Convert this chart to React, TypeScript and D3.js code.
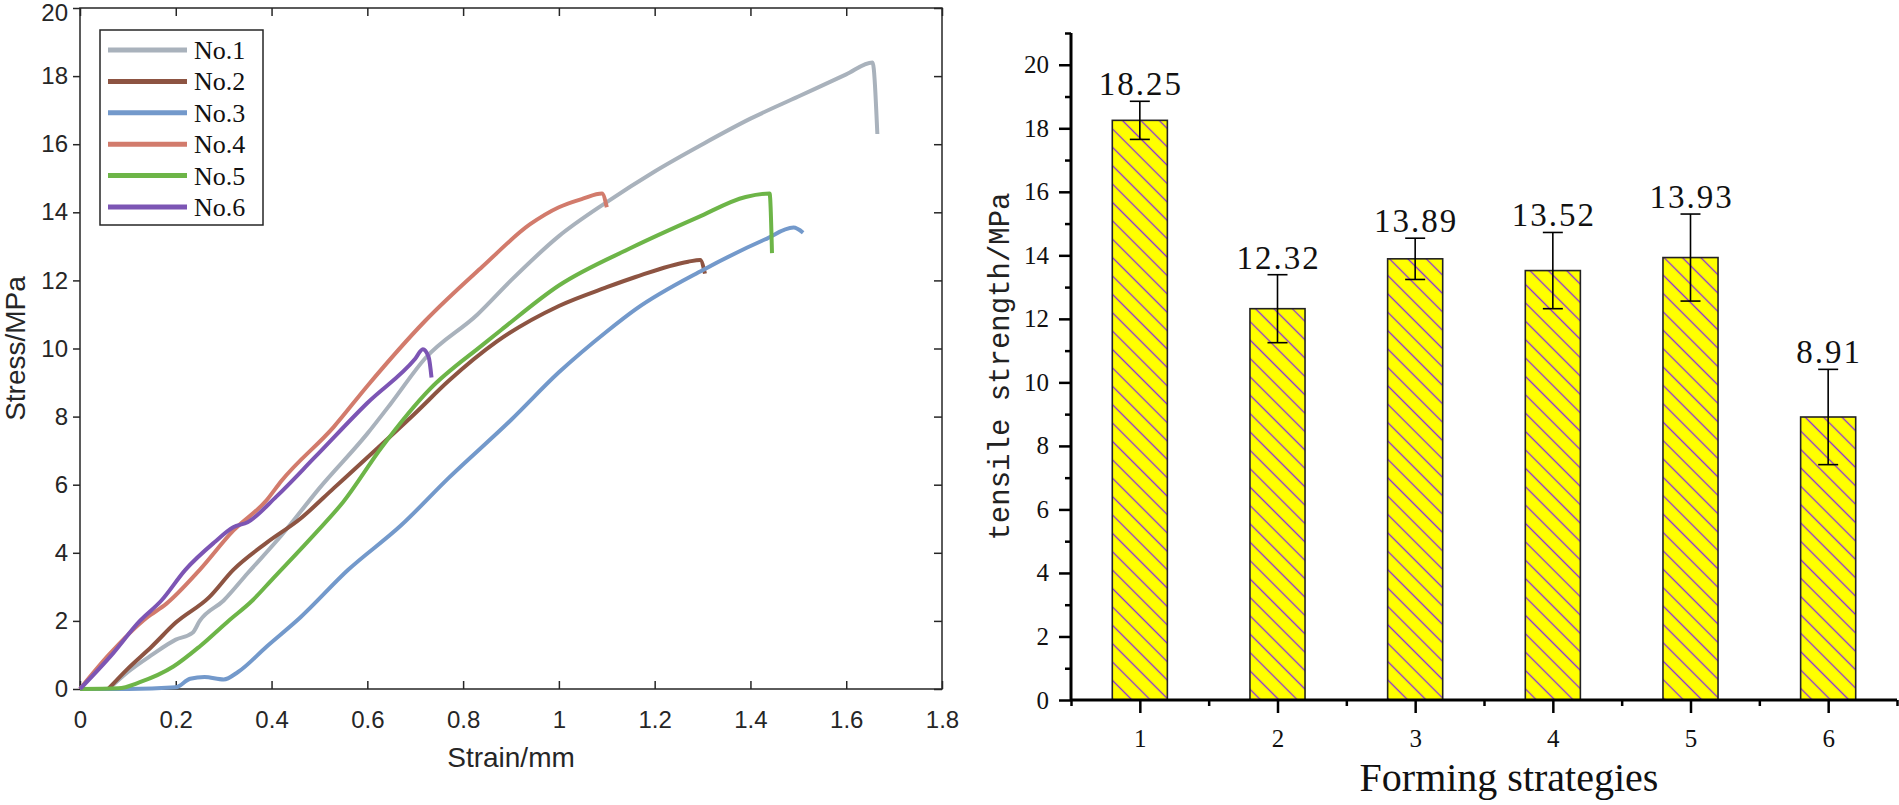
import React, { useRef, useEffect } from 'react';
import * as d3 from 'd3';

type Pt = [number, number];

// ---- left chart: stress / strain curves ----
const seriesNames = ['No.1', 'No.2', 'No.3', 'No.4', 'No.5', 'No.6'];
const seriesColors = ['#a9b2bc', '#8d5442', '#7399cb', '#d27b6c', '#6db548', '#7c55b4'];

const no1: Pt[] = [[0.06, 0], [0.1, 0.5], [0.15, 1.0], [0.2, 1.45], [0.235, 1.65], [0.25, 2.0], [0.3, 2.6], [0.35, 3.4], [0.42, 4.5], [0.5, 5.9], [0.6, 7.5], [0.65, 8.4], [0.72, 9.7], [0.83, 11.0], [0.9, 12.0], [1.0, 13.3], [1.1, 14.3], [1.2, 15.2], [1.3, 16.0], [1.4, 16.75], [1.5, 17.4], [1.6, 18.05], [1.655, 18.4], [1.665, 16.3]];
const no2: Pt[] = [[0.059, 0], [0.1, 0.6], [0.15, 1.25], [0.2, 1.95], [0.27, 2.7], [0.32, 3.5], [0.39, 4.3], [0.46, 5.0], [0.53, 5.9], [0.6, 6.8], [0.7, 8.1], [0.77, 9.05], [0.87, 10.2], [1.0, 11.25], [1.1, 11.8], [1.16, 12.1], [1.27, 12.55], [1.295, 12.6], [1.305, 12.2]];
const no3: Pt[] = [[0, 0], [0.1, 0], [0.2, 0.05], [0.23, 0.3], [0.26, 0.35], [0.3, 0.28], [0.33, 0.5], [0.39, 1.25], [0.46, 2.1], [0.56, 3.5], [0.67, 4.8], [0.77, 6.2], [0.9, 7.9], [1.0, 9.3], [1.1, 10.5], [1.16, 11.15], [1.3, 12.3], [1.43, 13.2], [1.49, 13.55], [1.51, 13.4]];
const no4: Pt[] = [[0, 0], [0.06, 1.0], [0.14, 2.1], [0.18, 2.5], [0.25, 3.5], [0.32, 4.65], [0.39, 5.55], [0.42, 6.1], [0.53, 7.7], [0.6, 8.9], [0.72, 10.8], [0.84, 12.4], [0.94, 13.65], [1.0, 14.15], [1.05, 14.4], [1.09, 14.55], [1.1, 14.15]];
const no5: Pt[] = [[0, 0], [0.08, 0.02], [0.125, 0.2], [0.195, 0.66], [0.25, 1.25], [0.31, 2.0], [0.36, 2.6], [0.4, 3.2], [0.49, 4.55], [0.55, 5.5], [0.63, 7.1], [0.73, 8.8], [0.84, 10.1], [0.88, 10.55], [1.0, 11.85], [1.15, 12.95], [1.29, 13.85], [1.39, 14.45], [1.44, 14.55], [1.445, 12.8]];
const no6: Pt[] = [[0, 0], [0.063, 0.95], [0.125, 2.0], [0.17, 2.6], [0.22, 3.5], [0.28, 4.3], [0.32, 4.75], [0.35, 4.9], [0.41, 5.65], [0.49, 6.8], [0.6, 8.4], [0.7, 9.7], [0.716, 9.98], [0.728, 9.75], [0.734, 9.15]];
const curves = [no1, no2, no3, no4, no5, no6];

const strainTicks = [0, 0.2, 0.4, 0.6, 0.8, 1, 1.2, 1.4, 1.6, 1.8];
const stressTicks = [0, 2, 4, 6, 8, 10, 12, 14, 16, 18, 20];

// ---- right chart: tensile strength bars ----
const strategies = [1, 2, 3, 4, 5, 6];
const strengthMeans = [18.25, 12.32, 13.89, 13.52, 13.93, 8.91];
const strengthErrors = [0.6, 1.07, 0.65, 1.2, 1.37, 1.5];
const strengthLabels = ['18.25', '12.32', '13.89', '13.52', '13.93', '8.91'];
const strengthTicks = [0, 2, 4, 6, 8, 10, 12, 14, 16, 18, 20];
const strengthMinorTicks = [1, 3, 5, 7, 9, 11, 13, 15, 17, 19, 21];
const strategyMinorTicks = [0.5, 1.5, 2.5, 3.5, 4.5, 5.5, 6.5];

const W = 1899;
const H = 805;

const App: React.FC = () => {
  const svgRef = useRef<SVGSVGElement>(null);

  useEffect(() => {
    if (!svgRef.current) return;
    const svg = d3.select(svgRef.current);
    svg.selectAll('*').remove();

    const sans = '"Liberation Sans", Arial, sans-serif';
    const serif = '"Liberation Serif", "Times New Roman", serif';
    const ink = '#262626';

    // ================= LEFT =================
    const x = d3.scaleLinear().domain([0, 1.8]).range([80, 942]);
    const y = d3.scaleLinear().domain([0, 20]).range([689, 8]);
    const L = svg.append('g');

    const styleAxis = (g: any, showText: boolean, size: number) => {
      g.select('.domain').remove();
      g.selectAll('line').attr('stroke', ink).attr('stroke-width', 1.5);
      g.selectAll('text')
        .attr('fill', ink)
        .style('font-family', sans)
        .style('font-size', `${size}px`)
        .style('display', showText ? null : 'none');
    };

    L.append('g')
      .attr('transform', `translate(${x(0)},0)`)
      .call(d3.axisLeft(y).tickValues(stressTicks).tickSize(7).tickPadding(5).tickFormat(d3.format('~g')))
      .call((g: any) => styleAxis(g, true, 24))
      // the top label sits a little low so it stays inside the picture
      .call((g: any) => g.selectAll('.tick text').filter((d: number) => d === 20).attr('y', 5));

    L.append('g')
      .attr('transform', `translate(${x(1.8)},0)`)
      .call(d3.axisRight(y).tickValues(stressTicks).tickSize(-8).tickFormat(() => ''))
      .call((g: any) => styleAxis(g, false, 24));

    L.append('g')
      .attr('transform', `translate(0,${y(0)})`)
      .call(d3.axisBottom(x).tickValues(strainTicks).tickSize(-8).tickPadding(22).tickFormat(d3.format('~g')))
      .call((g: any) => styleAxis(g, true, 24));

    L.append('g')
      .attr('transform', `translate(0,${y(20)})`)
      .call(d3.axisTop(x).tickValues(strainTicks).tickSize(-8).tickFormat(() => ''))
      .call((g: any) => styleAxis(g, false, 24));

    L.append('rect')
      .attr('x', x(0)).attr('y', y(20))
      .attr('width', x(1.8) - x(0)).attr('height', y(0) - y(20))
      .attr('fill', 'none').attr('stroke', ink).attr('stroke-width', 1.5);

    const line = d3.line<Pt>().x(d => x(d[0])).y(d => y(d[1])).curve(d3.curveMonotoneX);
    curves.forEach((c, i) => {
      L.append('path')
        .datum(c)
        .attr('d', line)
        .attr('fill', 'none')
        .attr('stroke', seriesColors[i])
        .attr('stroke-width', 4)
        .attr('stroke-linejoin', 'round');
    });

    // legend
    const lg = L.append('g');
    lg.append('rect')
      .attr('x', 100).attr('y', 30).attr('width', 163).attr('height', 195)
      .attr('fill', '#fff').attr('stroke', ink).attr('stroke-width', 1.5);
    seriesNames.forEach((name, i) => {
      const ry = 50 + i * 31.4;
      lg.append('line')
        .attr('x1', 108).attr('x2', 187).attr('y1', ry).attr('y2', ry)
        .attr('stroke', seriesColors[i]).attr('stroke-width', 5);
      lg.append('text')
        .attr('x', 194).attr('y', ry + 9)
        .style('font-family', serif).style('font-size', '26px')
        .attr('fill', '#111')
        .text(name);
    });

    L.append('text')
      .attr('x', (x(0) + x(1.8)) / 2).attr('y', 767)
      .attr('text-anchor', 'middle')
      .style('font-family', sans).style('font-size', '28px')
      .attr('fill', ink)
      .text('Strain/mm');

    L.append('text')
      .attr('transform', `translate(25,${(y(0) + y(20)) / 2}) rotate(-90)`)
      .attr('text-anchor', 'middle')
      .style('font-family', sans).style('font-size', '28px')
      .attr('fill', ink)
      .text('Stress/MPa');

    // ================= RIGHT =================
    const xr = d3.scaleLinear().domain([0.5, 6.5]).range([1071, 1897]);
    const yr = d3.scaleLinear().domain([0, 21]).range([700, 33]);
    const R = svg.append('g');

    const defs = svg.append('defs');
    const pat = defs.append('pattern')
      .attr('id', 'hatch')
      .attr('patternUnits', 'userSpaceOnUse')
      .attr('width', 13).attr('height', 13)
      .attr('patternTransform', 'rotate(45)');
    pat.append('rect').attr('width', 13).attr('height', 13).attr('fill', '#ffff00');
    pat.append('line')
      .attr('x1', 0).attr('x2', 13).attr('y1', 6.5).attr('y2', 6.5)
      .attr('stroke', '#8a2be2').attr('stroke-width', 1.3);

    const barW = xr(0.9) - xr(0.5);
    R.selectAll('rect.bar')
      .data(strategies)
      .join('rect')
      .attr('class', 'bar')
      .attr('x', d => xr(d) - barW / 2)
      .attr('y', (d, i) => yr(strengthMeans[i]))
      .attr('width', barW)
      .attr('height', (d, i) => yr(0) - yr(strengthMeans[i]))
      .attr('fill', 'url(#hatch)')
      .attr('stroke', '#222')
      .attr('stroke-width', 1.6);

    strategies.forEach((s, i) => {
      const cx = xr(s);
      const top = yr(strengthMeans[i] + strengthErrors[i]);
      const bot = yr(strengthMeans[i] - strengthErrors[i]);
      const eg = R.append('g').attr('stroke', '#000').attr('stroke-width', 1.6);
      eg.append('line').attr('x1', cx).attr('x2', cx).attr('y1', top).attr('y2', bot);
      eg.append('line').attr('x1', cx - 10).attr('x2', cx + 10).attr('y1', top).attr('y2', top);
      eg.append('line').attr('x1', cx - 10).attr('x2', cx + 10).attr('y1', bot).attr('y2', bot);
      R.append('text')
        .attr('x', cx + 1).attr('y', top - 6)
        .attr('text-anchor', 'middle')
        .style('font-family', serif).style('font-size', '33px')
        .style('letter-spacing', '2px')
        .attr('fill', '#111')
        .text(strengthLabels[i]);
    });

    const styleR = (g: any) => {
      g.select('.domain').remove();
      g.selectAll('line').attr('stroke', '#000').attr('stroke-width', 2.5);
      g.selectAll('text')
        .attr('fill', '#111')
        .style('font-family', serif)
        .style('font-size', '25px');
    };

    R.append('g')
      .attr('transform', `translate(${xr(0.5)},0)`)
      .call(d3.axisLeft(yr).tickValues(strengthMinorTicks).tickSize(6).tickFormat(() => ''))
      .call(styleR);
    R.append('g')
      .attr('transform', `translate(${xr(0.5)},0)`)
      .call(d3.axisLeft(yr).tickValues(strengthTicks).tickSize(12).tickPadding(10).tickFormat(d3.format('d')))
      .call(styleR);
    R.append('g')
      .attr('transform', `translate(0,${yr(0)})`)
      .call(d3.axisBottom(xr).tickValues(strategyMinorTicks).tickSize(6).tickFormat(() => ''))
      .call(styleR);
    R.append('g')
      .attr('transform', `translate(0,${yr(0)})`)
      .call(d3.axisBottom(xr).tickValues(strategies).tickSize(13).tickPadding(16).tickFormat(d3.format('d')))
      .call(styleR);

    R.append('line')
      .attr('x1', xr(0.5)).attr('x2', xr(0.5)).attr('y1', yr(21)).attr('y2', yr(0))
      .attr('stroke', '#000').attr('stroke-width', 3);
    R.append('line')
      .attr('x1', xr(0.5)).attr('x2', xr(6.5)).attr('y1', yr(0)).attr('y2', yr(0))
      .attr('stroke', '#000').attr('stroke-width', 3);

    R.append('text')
      .attr('x', 1509).attr('y', 791)
      .attr('text-anchor', 'middle')
      .style('font-family', serif).style('font-size', '40px')
      .attr('fill', '#111')
      .text('Forming strategies');

    R.append('text')
      .attr('transform', `translate(1009,${(yr(0) + yr(21)) / 2}) rotate(-90)`)
      .attr('text-anchor', 'middle')
      .style('font-family', '"Liberation Mono", "Courier New", monospace')
      .style('font-size', '29px')
      .attr('fill', '#222')
      .text('tensile strength/MPa');
  }, []);

  return (
    <div style={{ position: 'absolute', left: 0, top: 0 }}>
      <svg ref={svgRef} width={W} height={H} style={{ display: 'block', background: '#fff' }} />
    </div>
  );
};

export default App;
